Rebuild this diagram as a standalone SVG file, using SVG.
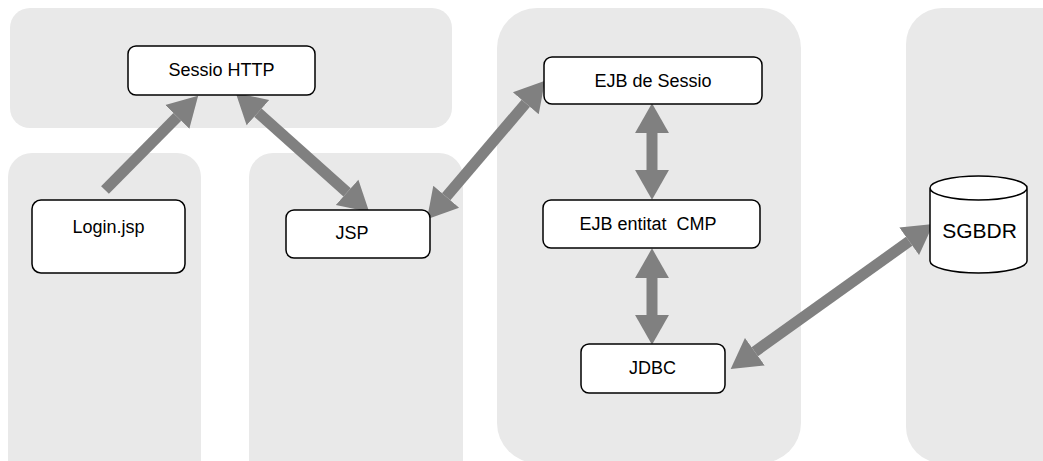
<svg xmlns="http://www.w3.org/2000/svg" width="1043" height="461" viewBox="0 0 1043 461">
<style>
.panel{fill:#e9e9e9}
.node{fill:#fff;stroke:#000;stroke-width:1.5}
.lbl{font-family:"Liberation Sans",Arial,sans-serif;font-size:18px;fill:#000;text-anchor:middle;white-space:pre}
.conn line{stroke:#808080;stroke-width:11}
</style>
<defs>
<marker id="ah" markerUnits="userSpaceOnUse" markerWidth="30" markerHeight="36" viewBox="0 -17 28 34" refX="0" refY="0" orient="auto-start-reverse">
<path d="M0,-16 L28,0 L0,16 z" fill="#808080"/>
</marker>
</defs>
<g id="panels">
<rect class="panel" x="10" y="8" width="442" height="120" rx="20"/>
<rect class="panel" x="8" y="153" width="193" height="340" rx="24"/>
<rect class="panel" x="249" y="153" width="214" height="340" rx="24"/>
<rect class="panel" x="497" y="8" width="304" height="455" rx="40"/>
<rect class="panel" x="906" y="8" width="180" height="455" rx="36"/>
</g>
<g id="connectors" class="conn">
<line x1="105" y1="190" x2="177.3" y2="116.9" marker-end="url(#ah)"/>
<line x1="257.9" y1="112.7" x2="347.1" y2="192.3" marker-start="url(#ah)" marker-end="url(#ah)"/>
<line x1="446.2" y1="196.7" x2="525.8" y2="103.3" marker-start="url(#ah)" marker-end="url(#ah)"/>
<line x1="652" y1="133" x2="652" y2="170" marker-start="url(#ah)" marker-end="url(#ah)"/>
<line x1="652" y1="278" x2="652" y2="315" marker-start="url(#ah)" marker-end="url(#ah)"/>
<line x1="754.8" y1="351.7" x2="909.2" y2="241.3" marker-start="url(#ah)" marker-end="url(#ah)"/>
</g>
<g id="sessio-http">
<rect class="node" x="128" y="46" width="187" height="49" rx="8"/>
<text class="lbl" x="221.5" y="76">Sessio HTTP</text>
</g>
<g id="login-jsp">
<rect class="node" x="32" y="200" width="153" height="73" rx="9"/>
<text class="lbl" x="108.5" y="233">Login.jsp</text>
</g>
<g id="jsp">
<rect class="node" x="286" y="210" width="144" height="48" rx="8"/>
<text class="lbl" x="352" y="238.5">JSP</text>
</g>
<g id="ejb-sessio">
<rect class="node" x="544" y="57" width="218" height="47" rx="8"/>
<text class="lbl" x="653" y="87">EJB de Sessio</text>
</g>
<g id="ejb-entitat">
<rect class="node" x="543" y="200" width="217" height="48" rx="8"/>
<text class="lbl" x="648" y="230">EJB entitat  CMP</text>
</g>
<g id="jdbc">
<rect class="node" x="581" y="344" width="144" height="49" rx="8"/>
<text class="lbl" x="652.5" y="374">JDBC</text>
</g>
<g id="sgbdr">
<path class="node" d="M930,188 L930,261 A48.5,12 0 0 0 1027,261 L1027,188 A48.5,12 0 0 0 930,188 A48.5,12 0 0 0 1027,188"/>
<text class="lbl" x="979.5" y="238" style="font-size:21px">SGBDR</text>
</g>
</svg>
